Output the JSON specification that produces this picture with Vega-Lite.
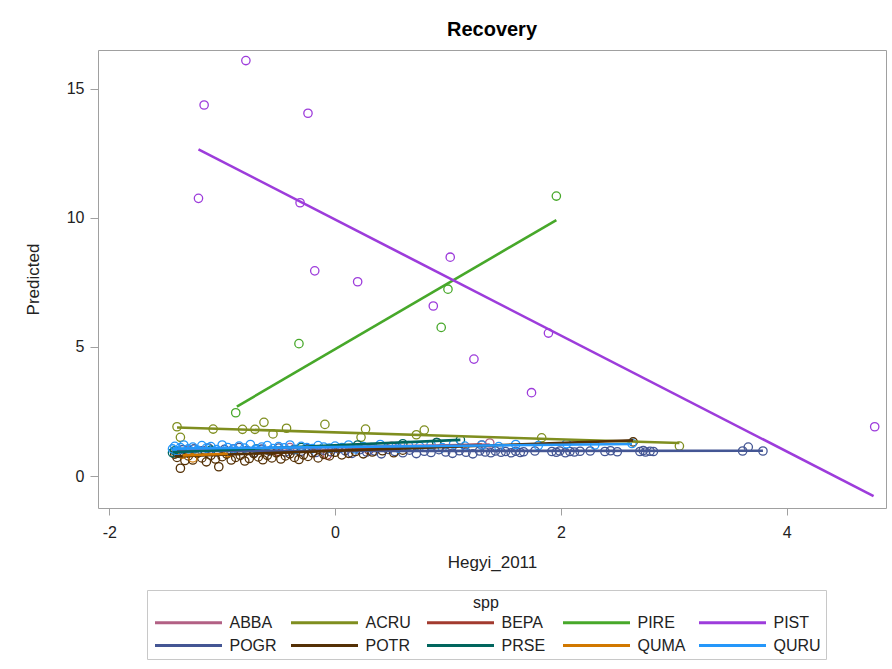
{
  "$schema": "https://vega.github.io/schema/vega-lite/v6.json",
  "width": 788,
  "height": 458,
  "autosize": "none",
  "padding": {"left": 98, "top": 50, "right": 6, "bottom": 161},
  "background": "white",
  "title": {"text": "Recovery", "fontSize": 20, "fontWeight": "bold", "font": "Liberation Sans", "color": "#000", "anchor": "middle", "offset": 10},
  "config": {
    "view": {"stroke": "#a0a0a0", "strokeWidth": 1},
    "axis": {"grid": false, "domain": false, "tickColor": "#a0a0a0", "labelFont": "Liberation Sans", "labelFontSize": 16, "labelColor": "#222", "titleFont": "Liberation Sans", "titleFontSize": 17, "titleFontWeight": "normal", "titleColor": "#222"}
  },
  "datasets": {
    "pts": [
      {"s":"ABBA","x":-1.3,"y":1.0},{"s":"ABBA","x":-0.9,"y":1.05},{"s":"ABBA","x":-0.4,"y":1.1},{"s":"ABBA","x":0.5,"y":1.15},{"s":"ABBA","x":1.37,"y":1.28},
      {"s":"ACRU","x":-1.40,"y":1.91},{"s":"ACRU","x":-1.37,"y":1.50},{"s":"ACRU","x":-1.08,"y":1.82},{"s":"ACRU","x":-0.82,"y":1.81},{"s":"ACRU","x":-0.71,"y":1.81},{"s":"ACRU","x":-0.63,"y":2.08},{"s":"ACRU","x":-0.55,"y":1.63},{"s":"ACRU","x":-0.43,"y":1.85},{"s":"ACRU","x":-0.09,"y":2.00},{"s":"ACRU","x":0.27,"y":1.82},{"s":"ACRU","x":0.23,"y":1.50},{"s":"ACRU","x":0.72,"y":1.60},{"s":"ACRU","x":0.79,"y":1.78},{"s":"ACRU","x":1.83,"y":1.48},{"s":"ACRU","x":3.05,"y":1.16},
      {"s":"BEPA","x":-0.5,"y":0.95},{"s":"BEPA","x":-0.07,"y":0.81},{"s":"BEPA","x":0.3,"y":1.0},{"s":"BEPA","x":0.9,"y":1.3},{"s":"BEPA","x":1.3,"y":1.2},
      {"s":"PIRE","x":1.96,"y":10.85},{"s":"PIRE","x":1.00,"y":7.24},{"s":"PIRE","x":0.94,"y":5.76},{"s":"PIRE","x":-0.32,"y":5.13},{"s":"PIRE","x":-0.88,"y":2.45},
      {"s":"PIST","x":-0.79,"y":16.1},{"s":"PIST","x":-1.16,"y":14.38},{"s":"PIST","x":-0.24,"y":14.06},{"s":"PIST","x":-1.21,"y":10.76},{"s":"PIST","x":-0.31,"y":10.59},{"s":"PIST","x":-0.18,"y":7.95},{"s":"PIST","x":0.20,"y":7.53},{"s":"PIST","x":1.02,"y":8.48},{"s":"PIST","x":0.87,"y":6.59},{"s":"PIST","x":1.23,"y":4.53},{"s":"PIST","x":1.89,"y":5.54},{"s":"PIST","x":1.74,"y":3.23},{"s":"PIST","x":4.78,"y":1.91},
      {"s":"POGR","x":-1.40,"y":0.95},{"s":"POGR","x":-1.35,"y":1.02},{"s":"POGR","x":-1.30,"y":0.92},{"s":"POGR","x":-1.25,"y":1.05},{"s":"POGR","x":-1.18,"y":0.98},{"s":"POGR","x":-1.12,"y":1.08},{"s":"POGR","x":-1.05,"y":0.93},{"s":"POGR","x":-0.98,"y":1.03},{"s":"POGR","x":-0.92,"y":0.96},{"s":"POGR","x":-0.85,"y":1.10},{"s":"POGR","x":-0.78,"y":0.99},{"s":"POGR","x":-0.72,"y":0.90},{"s":"POGR","x":-0.65,"y":1.04},{"s":"POGR","x":-0.58,"y":0.97},{"s":"POGR","x":-0.50,"y":1.08},{"s":"POGR","x":-0.44,"y":0.93},{"s":"POGR","x":-0.37,"y":1.01},{"s":"POGR","x":-0.30,"y":0.96},{"s":"POGR","x":-0.24,"y":1.06},{"s":"POGR","x":-0.17,"y":0.91},{"s":"POGR","x":-0.10,"y":1.00},{"s":"POGR","x":-0.04,"y":0.94},{"s":"POGR","x":0.03,"y":1.05},{"s":"POGR","x":0.09,"y":0.98},{"s":"POGR","x":0.15,"y":0.88},{"s":"POGR","x":0.22,"y":1.02},{"s":"POGR","x":0.28,"y":0.93},{"s":"POGR","x":0.35,"y":0.97},{"s":"POGR","x":0.41,"y":0.86},{"s":"POGR","x":0.47,"y":1.03},{"s":"POGR","x":0.53,"y":0.95},{"s":"POGR","x":0.60,"y":0.90},{"s":"POGR","x":0.66,"y":1.00},{"s":"POGR","x":0.72,"y":0.87},{"s":"POGR","x":0.79,"y":0.96},{"s":"POGR","x":0.85,"y":0.91},{"s":"POGR","x":0.92,"y":1.02},{"s":"POGR","x":0.98,"y":0.93},{"s":"POGR","x":1.04,"y":0.88},{"s":"POGR","x":1.10,"y":0.98},{"s":"POGR","x":1.16,"y":0.92},{"s":"POGR","x":1.22,"y":0.86},{"s":"POGR","x":1.28,"y":0.97},{"s":"POGR","x":1.33,"y":0.93},{"s":"POGR","x":1.38,"y":0.90},{"s":"POGR","x":1.42,"y":0.97},{"s":"POGR","x":1.47,"y":0.92},{"s":"POGR","x":1.51,"y":0.95},{"s":"POGR","x":1.56,"y":0.90},{"s":"POGR","x":1.60,"y":0.96},{"s":"POGR","x":1.64,"y":0.91},{"s":"POGR","x":1.67,"y":0.94},{"s":"POGR","x":1.77,"y":0.97},{"s":"POGR","x":1.92,"y":0.95},{"s":"POGR","x":1.96,"y":0.92},{"s":"POGR","x":1.99,"y":0.97},{"s":"POGR","x":2.04,"y":0.90},{"s":"POGR","x":2.08,"y":0.95},{"s":"POGR","x":2.12,"y":0.93},{"s":"POGR","x":2.17,"y":0.96},{"s":"POGR","x":2.26,"y":0.97},{"s":"POGR","x":2.39,"y":0.95},{"s":"POGR","x":2.44,"y":0.98},{"s":"POGR","x":2.50,"y":0.94},{"s":"POGR","x":2.70,"y":0.95},{"s":"POGR","x":2.73,"y":0.99},{"s":"POGR","x":2.75,"y":0.93},{"s":"POGR","x":2.79,"y":0.96},{"s":"POGR","x":2.82,"y":0.95},{"s":"POGR","x":3.61,"y":0.97},{"s":"POGR","x":3.66,"y":1.12},{"s":"POGR","x":3.79,"y":0.97},
      {"s":"POTR","x":-1.42,"y":0.85},{"s":"POTR","x":-1.40,"y":0.72},{"s":"POTR","x":-1.37,"y":0.30},{"s":"POTR","x":-1.33,"y":0.60},{"s":"POTR","x":-1.30,"y":0.78},{"s":"POTR","x":-1.26,"y":0.62},{"s":"POTR","x":-1.22,"y":0.88},{"s":"POTR","x":-1.18,"y":0.70},{"s":"POTR","x":-1.14,"y":0.55},{"s":"POTR","x":-1.10,"y":0.80},{"s":"POTR","x":-1.06,"y":0.66},{"s":"POTR","x":-1.03,"y":0.36},{"s":"POTR","x":-1.00,"y":0.75},{"s":"POTR","x":-0.96,"y":0.85},{"s":"POTR","x":-0.92,"y":0.62},{"s":"POTR","x":-0.88,"y":0.72},{"s":"POTR","x":-0.84,"y":0.80},{"s":"POTR","x":-0.80,"y":0.58},{"s":"POTR","x":-0.76,"y":0.68},{"s":"POTR","x":-0.72,"y":0.87},{"s":"POTR","x":-0.68,"y":0.74},{"s":"POTR","x":-0.64,"y":0.63},{"s":"POTR","x":-0.60,"y":0.80},{"s":"POTR","x":-0.56,"y":0.70},{"s":"POTR","x":-0.52,"y":0.90},{"s":"POTR","x":-0.48,"y":0.66},{"s":"POTR","x":-0.44,"y":0.78},{"s":"POTR","x":-0.40,"y":0.86},{"s":"POTR","x":-0.36,"y":0.72},{"s":"POTR","x":-0.32,"y":0.64},{"s":"POTR","x":-0.28,"y":0.82},{"s":"POTR","x":-0.24,"y":0.76},{"s":"POTR","x":-0.20,"y":0.90},{"s":"POTR","x":-0.15,"y":0.70},{"s":"POTR","x":-0.10,"y":0.84},{"s":"POTR","x":-0.05,"y":0.78},{"s":"POTR","x":0.00,"y":0.92},{"s":"POTR","x":0.06,"y":0.82},{"s":"POTR","x":0.12,"y":0.88},{"s":"POTR","x":0.18,"y":0.95},{"s":"POTR","x":0.25,"y":0.86},{"s":"POTR","x":0.33,"y":0.93},{"s":"POTR","x":0.42,"y":0.98},{"s":"POTR","x":0.52,"y":0.90},{"s":"POTR","x":0.60,"y":1.00},{"s":"POTR","x":2.64,"y":1.32},
      {"s":"PRSE","x":-1.44,"y":0.90},{"s":"PRSE","x":-1.42,"y":0.98},{"s":"PRSE","x":-1.38,"y":0.88},{"s":"PRSE","x":-1.1,"y":1.0},{"s":"PRSE","x":-0.7,"y":1.05},{"s":"PRSE","x":-0.3,"y":1.1},{"s":"PRSE","x":0.2,"y":1.2},{"s":"PRSE","x":0.6,"y":1.25},{"s":"PRSE","x":0.9,"y":1.3},{"s":"PRSE","x":1.11,"y":1.40},
      {"s":"QUMA","x":-1.35,"y":0.85},{"s":"QUMA","x":-1.26,"y":0.70},{"s":"QUMA","x":-0.95,"y":0.9},
      {"s":"QURU","x":-1.44,"y":1.05},{"s":"QURU","x":-1.42,"y":1.15},{"s":"QURU","x":-1.40,"y":0.98},{"s":"QURU","x":-1.37,"y":1.10},{"s":"QURU","x":-1.34,"y":1.20},{"s":"QURU","x":-1.30,"y":1.05},{"s":"QURU","x":-1.26,"y":1.12},{"s":"QURU","x":-1.22,"y":1.00},{"s":"QURU","x":-1.18,"y":1.18},{"s":"QURU","x":-1.14,"y":1.08},{"s":"QURU","x":-1.10,"y":1.14},{"s":"QURU","x":-1.05,"y":1.02},{"s":"QURU","x":-1.00,"y":1.20},{"s":"QURU","x":-0.95,"y":1.10},{"s":"QURU","x":-0.90,"y":1.05},{"s":"QURU","x":-0.85,"y":1.16},{"s":"QURU","x":-0.80,"y":1.08},{"s":"QURU","x":-0.75,"y":1.22},{"s":"QURU","x":-0.70,"y":1.04},{"s":"QURU","x":-0.65,"y":1.12},{"s":"QURU","x":-0.60,"y":1.18},{"s":"QURU","x":-0.55,"y":1.06},{"s":"QURU","x":-0.50,"y":1.14},{"s":"QURU","x":-0.45,"y":1.09},{"s":"QURU","x":-0.40,"y":1.20},{"s":"QURU","x":-0.35,"y":1.03},{"s":"QURU","x":-0.30,"y":1.15},{"s":"QURU","x":-0.25,"y":1.10},{"s":"QURU","x":-0.20,"y":1.06},{"s":"QURU","x":-0.15,"y":1.18},{"s":"QURU","x":-0.10,"y":1.12},{"s":"QURU","x":-0.05,"y":1.08},{"s":"QURU","x":0.00,"y":1.16},{"s":"QURU","x":0.06,"y":1.10},{"s":"QURU","x":0.12,"y":1.20},{"s":"QURU","x":0.18,"y":1.05},{"s":"QURU","x":0.25,"y":1.14},{"s":"QURU","x":0.32,"y":1.10},{"s":"QURU","x":0.40,"y":1.22},{"s":"QURU","x":0.48,"y":1.12},{"s":"QURU","x":0.56,"y":1.08},{"s":"QURU","x":0.65,"y":1.18},{"s":"QURU","x":0.75,"y":1.14},{"s":"QURU","x":0.85,"y":1.20},{"s":"QURU","x":0.95,"y":1.10},{"s":"QURU","x":1.05,"y":1.24},{"s":"QURU","x":1.15,"y":1.16},{"s":"QURU","x":1.30,"y":1.20},{"s":"QURU","x":1.45,"y":1.14},{"s":"QURU","x":1.60,"y":1.22},{"s":"QURU","x":1.80,"y":1.18},{"s":"QURU","x":2.05,"y":1.25},{"s":"QURU","x":2.30,"y":1.20},{"s":"QURU","x":2.63,"y":1.26}
    ],
    "fits": [
      {"s":"ABBA","x":-1.3,"y":1.02},{"s":"ABBA","x":1.37,"y":1.22},
      {"s":"ACRU","x":-1.40,"y":1.88},{"s":"ACRU","x":3.05,"y":1.28},
      {"s":"BEPA","x":-0.5,"y":0.92},{"s":"BEPA","x":1.3,"y":1.22},
      {"s":"PIRE","x":-0.87,"y":2.69},{"s":"PIRE","x":1.96,"y":9.92},
      {"s":"PIST","x":-1.21,"y":12.66},{"s":"PIST","x":4.77,"y":-0.78},
      {"s":"POGR","x":-1.40,"y":0.97},{"s":"POGR","x":3.79,"y":0.98},
      {"s":"POTR","x":-1.42,"y":0.76},{"s":"POTR","x":2.64,"y":1.38},
      {"s":"PRSE","x":-1.44,"y":0.92},{"s":"PRSE","x":1.11,"y":1.40},
      {"s":"QUMA","x":-1.35,"y":0.80},{"s":"QUMA","x":-0.95,"y":0.86},
      {"s":"QURU","x":-1.44,"y":1.06},{"s":"QURU","x":2.63,"y":1.24}
    ]
  },
  "layer": [
    {
      "data": {"name": "pts"},
      "mark": {"type": "point", "shape": "circle", "filled": false, "size": 70, "strokeWidth": 1.3, "opacity": 1},
      "encoding": {
        "x": {"field": "x", "type": "quantitative", "scale": {"domain": [-2.1, 4.88], "nice": false, "zero": false}, "axis": {"title": "Hegyi_2011", "values": [-2, 0, 2, 4], "labelExpr": "'' + datum.value", "tickSize": 7, "labelPadding": 9, "titlePadding": 14}},
        "y": {"field": "y", "type": "quantitative", "scale": {"domain": [-1.24, 16.51], "nice": false, "zero": false}, "axis": {"title": "Predicted", "values": [0, 5, 10, 15], "labelExpr": "'' + datum.value", "tickSize": 8, "labelPadding": 6, "titlePadding": 24}},
        "color": {"field": "s", "type": "nominal",
          "scale": {"domain": ["ABBA","ACRU","BEPA","PIRE","PIST","POGR","POTR","PRSE","QUMA","QURU"], "range": ["#B26084","#7F8E1F","#A23A2E","#47A82A","#9D3CDB","#445694","#543005","#01665E","#D17800","#2597FA"]},
          "legend": {"orient": "none", "legendX": 49, "legendY": 540, "direction": "horizontal", "columns": 5, "title": "spp", "titleAnchor": "middle", "titleFont": "Liberation Sans", "titleFontSize": 16, "titleFontWeight": "normal", "titleColor": "#222", "titlePadding": 2, "labelFont": "Liberation Sans", "labelFontSize": 16, "labelColor": "#222", "symbolType": "M0,0H8.375", "symbolSize": 256, "symbolStrokeWidth": 3, "symbolOffset": -6.5, "labelOffset": 65, "columnPadding": 7, "rowPadding": 5, "strokeColor": "#c8c8c8", "padding": 5, "gridAlign": "all"}}
      }
    },
    {
      "data": {"name": "fits"},
      "mark": {"type": "line", "strokeWidth": 2.6},
      "encoding": {
        "x": {"field": "x", "type": "quantitative"},
        "y": {"field": "y", "type": "quantitative"},
        "color": {"field": "s", "type": "nominal"}
      }
    }
  ]
}
